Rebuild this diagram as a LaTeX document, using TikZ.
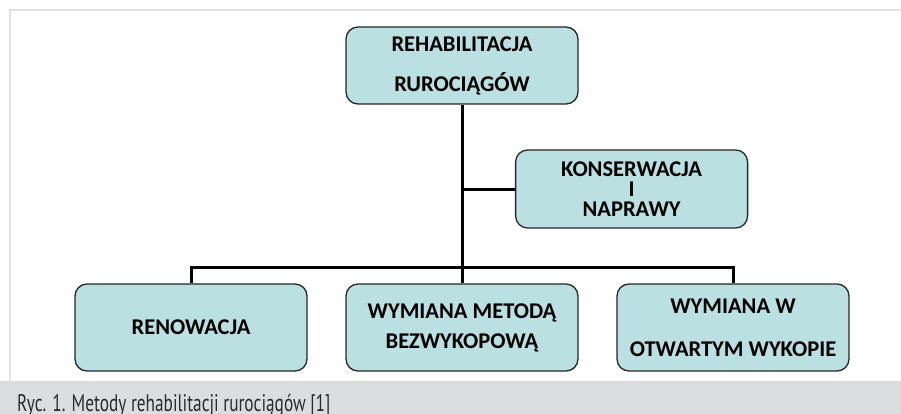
\documentclass[tikz,border=0pt]{standalone}
\usepackage{fontspec}
\setmainfont{Carlito}
\newfontfamily\capfont[FakeStretch=0.72]{PT Sans}
\usepackage{tikz}
\usetikzlibrary{positioning,calc}
\definecolor{boxfill}{HTML}{BBE0E1}
\definecolor{bandgray}{HTML}{DCDDDF}
\definecolor{framegray}{HTML}{E2E2E2}
\definecolor{captext}{HTML}{2B2B2B}
\tikzset{%
	boxnode/.style = {draw=black!85, fill=boxfill, line width=1.3pt, rounded corners=12pt, minimum width=232pt, text centered, align=center, font=\bfseries\fontsize{22.5}{23}\selectfont},
	conn/.style    = {line width=3pt, black},
}
\begin{document}
\begin{tikzpicture}[x=1pt,y=-1pt]
	\useasboundingbox (0,0) rectangle (901,414);
	
	\draw[framegray, line width=2pt] (10,381) -- (10,10) -- (901,10);  % frame
	\fill[bandgray] (0,381) rectangle (901,414);  % caption band
	\node[anchor=base west, inner sep=0pt, text=captext] (caption) at (17,411) {\capfont\fontsize{24}{26}\selectfont Ryc. 1. Metody rehabilitacji rurociągów [1]};
	
	\node[boxnode, minimum height=77pt] (rehab) at (462,65.5) {REHABILITACJA\\[17pt]RUROCIĄGÓW};
	\node[boxnode, minimum height=78pt] (konserw) at (631.6,189) {KONSERWACJA\\[-3pt]I\\[-3pt]NAPRAWY};
	\node[boxnode, minimum height=87pt] (renow) at (191,327.5) {RENOWACJA};
	\node[boxnode, minimum height=87pt] (bezwyk) at (462,327.5) {WYMIANA METODĄ\\[7pt]BEZWYKOPOWĄ};
	\node[boxnode, minimum height=87pt] (otwarty) at (733,327.5) {WYMIANA W\\[20pt]OTWARTYM WYKOPIE};
	
	\coordinate (bar) at (462,267);
	\draw[conn] (rehab.south) -- (bezwyk.north);
	\draw[conn] (renow.north) |- (bar) -| (otwarty.north);
	\draw[conn] (konserw.west) -- (konserw.west -| rehab.south);
\end{tikzpicture}
\end{document}
